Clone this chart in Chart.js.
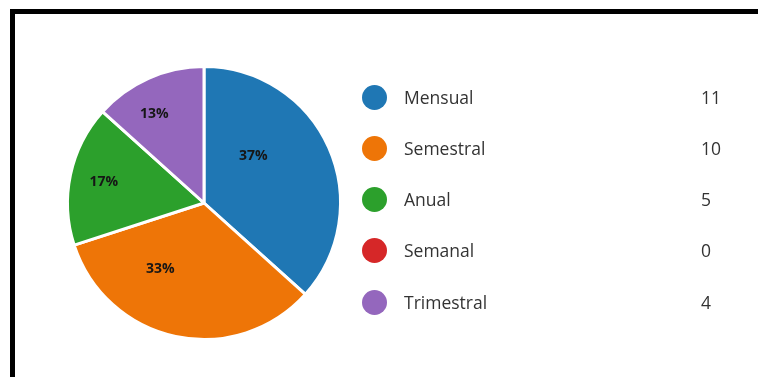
<!DOCTYPE html>
<html>
<head>
<meta charset="utf-8">
<script src="https://cdn.jsdelivr.net/npm/chart.js@4"></script>
<style>
  html, body { margin: 0; padding: 0; background: #fff; }
  body { width: 758px; height: 377px; position: relative; overflow: hidden; font-family: 'Open Sans', sans-serif; }
  .frame { position: absolute; left: 10px; top: 9px; right: 0; bottom: 0; border-left: 5px solid #000; border-top: 5px solid #000; }
  #pie { position: absolute; left: 0; top: 0; }
  .leyenda { position: absolute; left: 0; top: 0; margin: 0; padding: 0; list-style: none; }
  .leyenda li { position: absolute; left: 362px; width: 380px; height: 26px; }
  .leyenda .dot { position: absolute; left: 0; top: 0; width: 25px; height: 25px; border-radius: 50%; }
  .leyenda .txt { position: absolute; left: 42px; top: -1px; font-size: 17.5px; line-height: 26px; color: #333; }
  .leyenda .val { position: absolute; left: 339px; top: -1px; font-size: 17.5px; line-height: 26px; color: #333; }
</style>
</head>
<body>
<div class="frame"></div>
<canvas id="pie" width="758" height="377"></canvas>
<ul class="leyenda" id="leyenda"></ul>

<script>
// ── Datos ──
const categorias = ['Mensual', 'Semestral', 'Anual', 'Semanal', 'Trimestral'];
const valores = [11, 10, 5, 0, 4];
const colores = ['#1f77b4', '#ee7507', '#2ca02c', '#d62728', '#9467bd'];

// posición de cada etiqueta dentro de su porción (fracción del ángulo, fracción del radio)
const etiquetaAngulo = [0.35, 0.68, 0.50, 0.5, 0.39];
const etiquetaRadio = [0.50, 0.58, 0.75, 0.6, 0.745];

// ── Leyenda con valores ──
const filaY = [85, 136, 187, 238, 290];
const ul = document.getElementById('leyenda');
categorias.forEach((c, i) => {
  const li = document.createElement('li');
  li.style.top = filaY[i] + 'px';
  li.innerHTML = `<span class="dot" style="background:${colores[i]}"></span>` +
                 `<span class="txt">${c}</span><span class="val">${valores[i]}</span>`;
  ul.appendChild(li);
});

// ── Porcentajes dentro del pastel ──
const porcentajes = {
  id: 'porcentajes',
  afterDatasetsDraw(chart) {
    const ctx = chart.ctx;
    const meta = chart.getDatasetMeta(0);
    const total = valores.reduce((a, b) => a + b, 0);
    ctx.save();
    ctx.font = "bold 14px 'Open Sans', sans-serif";
    ctx.fillStyle = '#161616';
    ctx.textAlign = 'center';
    ctx.textBaseline = 'middle';
    meta.data.forEach((arc, i) => {
      if (!valores[i]) return;
      const { x, y, startAngle, endAngle, outerRadius } = arc.getProps(['x', 'y', 'startAngle', 'endAngle', 'outerRadius'], true);
      const a = startAngle + etiquetaAngulo[i] * (endAngle - startAngle);
      const r = outerRadius * etiquetaRadio[i];
      ctx.fillText(Math.round(valores[i] / total * 100) + '%', x + Math.cos(a) * r, y + Math.sin(a) * r);
    });
    ctx.restore();
  }
};

new Chart(document.getElementById('pie').getContext('2d'), {
  type: 'pie',
  data: {
    labels: categorias,
    datasets: [{
      data: valores,
      backgroundColor: colores,
      borderColor: '#fff',
      borderWidth: 3
    }]
  },
  options: {
    responsive: false,
    animation: false,
    layout: { padding: { left: 66, top: 65, right: 416, bottom: 36 } },
    plugins: {
      legend: { display: false },
      tooltip: { enabled: false }
    }
  },
  plugins: [porcentajes]
});
</script>
</body>
</html>
